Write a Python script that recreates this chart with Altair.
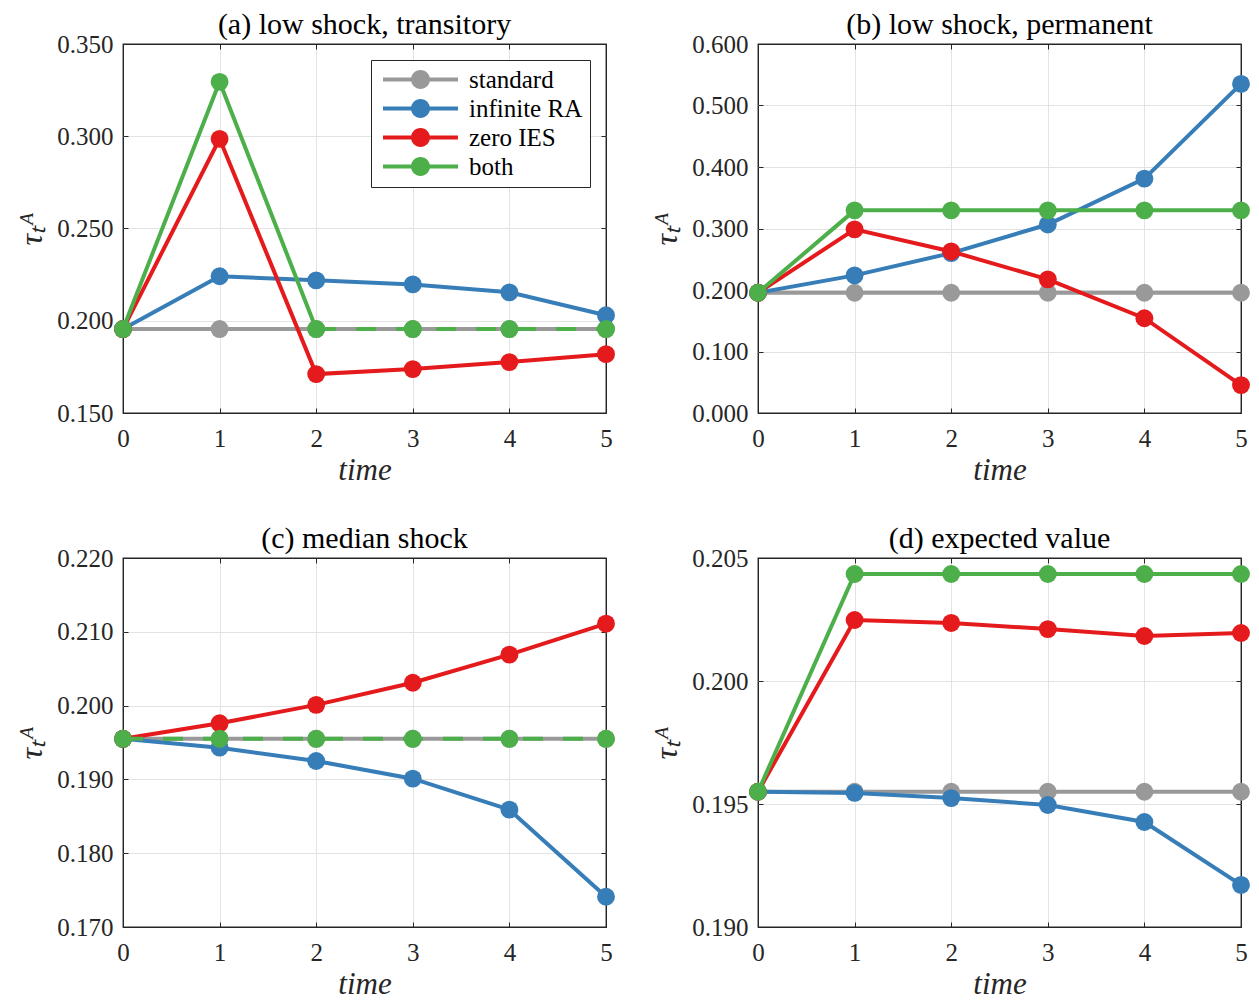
import altair as alt
import pandas as pd

FONT = "Liberation Serif"

TIME = [0, 1, 2, 3, 4, 5]
SERIES = ["standard", "infinite RA", "zero IES", "both"]
COLORS = ["#999999", "#377eb8", "#e41a1c", "#4daf4a"]

TITLES = [
    "(a) low shock, transitory",
    "(b) low shock, permanent",
    "(c) median shock",
    "(d) expected value",
]

# panel (a)
a_standard = [0.1955, 0.1955, 0.1955, 0.1955, 0.1955, 0.1955]
a_ra = [0.1955, 0.2241, 0.2219, 0.2197, 0.2154, 0.2030]
a_ies = [0.1955, 0.2986, 0.1711, 0.1738, 0.1776, 0.1819]
a_both = [0.1955, 0.3295, 0.1955, 0.1955, 0.1955, 0.1955]
a_ticks = [0.150, 0.200, 0.250, 0.300, 0.350]

# panel (b)
b_standard = [0.1955, 0.1955, 0.1955, 0.1955, 0.1955, 0.1955]
b_ra = [0.1955, 0.2238, 0.2600, 0.3065, 0.3811, 0.5351]
b_ies = [0.1955, 0.2986, 0.2627, 0.2173, 0.1541, 0.0454]
b_both = [0.1955, 0.3295, 0.3295, 0.3295, 0.3295, 0.3295]
b_ticks = [0.000, 0.100, 0.200, 0.300, 0.400, 0.500, 0.600]

# panel (c)
c_standard = [0.1955, 0.1955, 0.1955, 0.1955, 0.1955, 0.1955]
c_ra = [0.1955, 0.1943, 0.1925, 0.1901, 0.1859, 0.1741]
c_ies = [0.1955, 0.1976, 0.2001, 0.2031, 0.2069, 0.2111]
c_both = [0.1955, 0.1955, 0.1955, 0.1955, 0.1955, 0.1955]
c_ticks = [0.170, 0.180, 0.190, 0.200, 0.210, 0.220]

# panel (d)
d_standard = [0.1955, 0.1955, 0.1955, 0.1955, 0.1955, 0.1955]
d_ra = [0.1955, 0.19545, 0.19524, 0.19496, 0.19427, 0.19171]
d_ies = [0.1955, 0.20248, 0.20236, 0.20211, 0.20183, 0.20195]
d_both = [0.1955, 0.20435, 0.20435, 0.20435, 0.20435, 0.20435]
d_ticks = [0.190, 0.195, 0.200, 0.205]

# time index from which the "both" line is drawn dashed (overlapping "standard")
DASH_FROM = [2, None, 0, None]

W, H = 483, 369
FRAME = "#262626"
GRID = "#e3e3e3"
TICK_LEN = 5

LEGEND_PATH = (
    "M-3.125,-0.167H-0.76V0.167H-3.125Z"
    "M0.76,-0.167H3.125V0.167H0.76Z"
    "M0.79,0A0.79,0.79,0,1,1,-0.79,0A0.79,0.79,0,1,1,0.79,0Z"
)


def edge_test(lo, hi):
    return f"abs(datum.value - ({lo})) < 1e-9 || abs(datum.value - ({hi})) < 1e-9"


def inner_ticks(orient, values):
    return alt.Axis(
        orient=orient,
        values=values,
        offset=-TICK_LEN,
        tickSize=TICK_LEN,
        ticks=True,
        tickColor=FRAME,
        tickWidth=1,
        labels=False,
        domain=False,
        grid=False,
        title=None,
    )


def panel(title, values, yticks, dash_from, show_legend):
    xs = alt.Scale(domain=[TIME[0], TIME[-1]], nice=False)
    ys = alt.Scale(domain=[yticks[0], yticks[-1]], nice=False, zero=False)
    x_main = alt.X(
        "t:Q",
        scale=xs,
        axis=alt.Axis(
            values=TIME,
            format="d",
            title="time",
            titleFontStyle="italic",
            titleFontSize=31,
            labelFlush=False,
            labelPadding=13,
            titlePadding=4,
            ticks=False,
            gridColor=alt.condition(edge_test(TIME[0], TIME[-1]), alt.value(FRAME), alt.value(GRID)),
        ),
    )
    y_main = alt.Y(
        "v:Q",
        scale=ys,
        axis=alt.Axis(
            values=yticks,
            format=".3f",
            title="τₜᴬ",
            titleFontStyle="italic",
            titleFontSize=32,
            labelPadding=10,
            titlePadding=8,
            ticks=False,
            gridColor=alt.condition(edge_test(yticks[0], yticks[-1]), alt.value(FRAME), alt.value(GRID)),
        ),
    )
    x_none = alt.X("t:Q", scale=xs, axis=None)
    y_none = alt.Y("v:Q", scale=ys, axis=None)
    x_bot = alt.X("t:Q", scale=xs, axis=inner_ticks("bottom", TIME))
    y_left = alt.Y("v:Q", scale=ys, axis=inner_ticks("left", yticks))
    x_top = alt.X("t:Q", scale=xs, axis=inner_ticks("top", TIME))
    y_right = alt.Y("v:Q", scale=ys, axis=inner_ticks("right", yticks))
    line_axes = {
        "standard": (x_main, y_main),
        "infinite RA": (x_bot, y_left),
        "zero IES": (x_top, y_right),
        "both": (x_none, y_none),
    }

    cscale = alt.Scale(domain=SERIES, range=COLORS)
    if show_legend:
        legend = alt.Legend(
            title=None,
            orient="top-right",
            offset=16,
            symbolType=LEGEND_PATH,
            symbolSize=576,
            symbolStrokeWidth=0,
            symbolOpacity=1,
            symbolOffset=30,
            labelOffset=36,
            labelFont=FONT,
            labelFontSize=25,
            labelColor="black",
            padding=7,
            rowPadding=3,
            strokeColor=FRAME,
            fillColor="white",
        )
    else:
        legend = None

    layers = []
    for s, c, vals in zip(SERIES, COLORS, values):
        df = pd.DataFrame({"t": TIME, "v": vals, "series": s})
        lx, ly = line_axes[s]
        if s == "both" and dash_from is not None:
            solid = df[df.t <= dash_from]
            dashed = df[df.t >= dash_from]
            if len(solid) > 1:
                layers.append(
                    alt.Chart(solid).mark_line(color=c, strokeWidth=4).encode(x=lx, y=ly)
                )
            layers.append(
                alt.Chart(dashed)
                .mark_line(color=c, strokeWidth=4, strokeDash=[20, 20])
                .encode(x=x_none, y=y_none)
            )
        else:
            layers.append(alt.Chart(df).mark_line(color=c, strokeWidth=4).encode(x=lx, y=ly))
        layers.append(
            alt.Chart(df)
            .mark_circle(size=320, opacity=1)
            .encode(
                x=x_none,
                y=y_none,
                color=alt.Color("series:N", scale=cscale, legend=legend),
            )
        )
    return (
        alt.layer(*layers)
        .resolve_axis(x="independent", y="independent")
        .properties(
            width=W,
            height=H,
            title=alt.TitleParams(
                title, font=FONT, fontSize=30, fontWeight="normal", color="black", offset=-8
            ),
        )
    )


pa = panel(TITLES[0], [a_standard, a_ra, a_ies, a_both], a_ticks, DASH_FROM[0], True)
pb = panel(TITLES[1], [b_standard, b_ra, b_ies, b_both], b_ticks, DASH_FROM[1], False)
pc = panel(TITLES[2], [c_standard, c_ra, c_ies, c_both], c_ticks, DASH_FROM[2], False)
pd_ = panel(TITLES[3], [d_standard, d_ra, d_ies, d_both], d_ticks, DASH_FROM[3], False)

chart = (
    alt.vconcat(
        alt.hconcat(pa, pb, spacing=34).resolve_scale(color="independent"),
        alt.hconcat(pc, pd_, spacing=34).resolve_scale(color="independent"),
        spacing=37,
    )
    .resolve_scale(color="independent")
    .properties(padding={"left": 7, "top": 1, "right": 0, "bottom": 0})
    .configure(background="white")
    .configure_view(stroke=FRAME, strokeWidth=1.3)
    .configure_axis(
        labelFont=FONT,
        labelFontSize=25,
        labelColor=FRAME,
        titleFont=FONT,
        titleFontWeight="normal",
        titleColor=FRAME,
        gridWidth=1,
        domain=False,
    )
)

chart.save("out.html", embed_options={"renderer": "svg", "actions": False})
